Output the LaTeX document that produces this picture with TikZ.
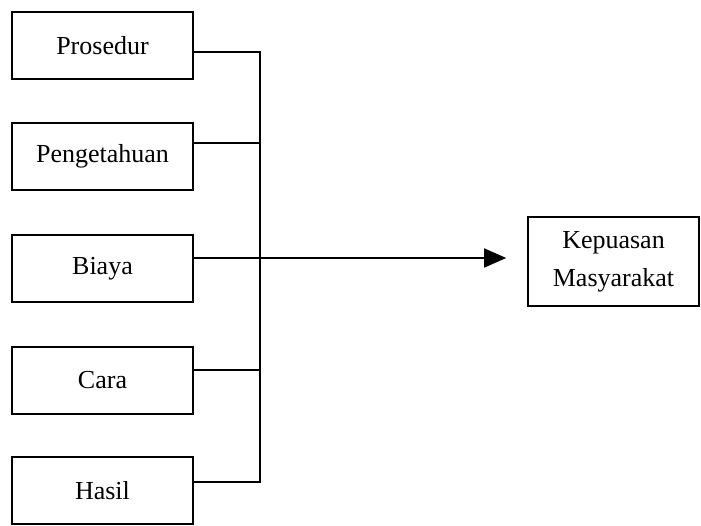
\documentclass[tikz,border=0pt]{standalone}
\usepackage{fontspec}
\setmainfont{Liberation Serif}
\usetikzlibrary{arrows.meta}
\begin{document}
\begin{tikzpicture}[x=1pt,y=-1pt,
  box/.style={draw,line width=1.6pt,minimum width=181pt,minimum height=67pt,inner sep=0pt,font=\fontsize{26}{30}\selectfont},
  conn/.style={line width=1.6pt}]
\useasboundingbox (0,0) rectangle (701,525);
\node[box] (p) at (102.5,45.5) {Prosedur};
\node[box] (g) at (102.5,156.5) {Pengetahuan};
\node[box] (b) at (102.5,268.5) {Biaya};
\node[box] (c) at (102.5,380.5) {Cara};
\node[box] (h) at (102.5,490.5) {Hasil};
\node[box,minimum width=171pt,minimum height=89pt,align=center,font=\fontsize{26}{38}\selectfont] (k) at (613.5,261.5) {Kepuasan\\Masyarakat};
\coordinate (j1) at (260,52);
\coordinate (j2) at (260,143);
\coordinate (j3) at (260,258);
\coordinate (j4) at (260,370);
\coordinate (j5) at (260,482);
\draw[conn] (p.east |- j1) -- (j1) -- (j5) -- (h.east |- j5);
\draw[conn] (g.east |- j2) -- (j2);
\draw[conn] (b.east |- j3) -- (j3);
\draw[conn] (c.east |- j4) -- (j4);
\draw[conn,-{Triangle[length=22pt,width=19pt]},shorten >=21pt] (j3) -- (k.west |- j3);
\end{tikzpicture}
\end{document}
